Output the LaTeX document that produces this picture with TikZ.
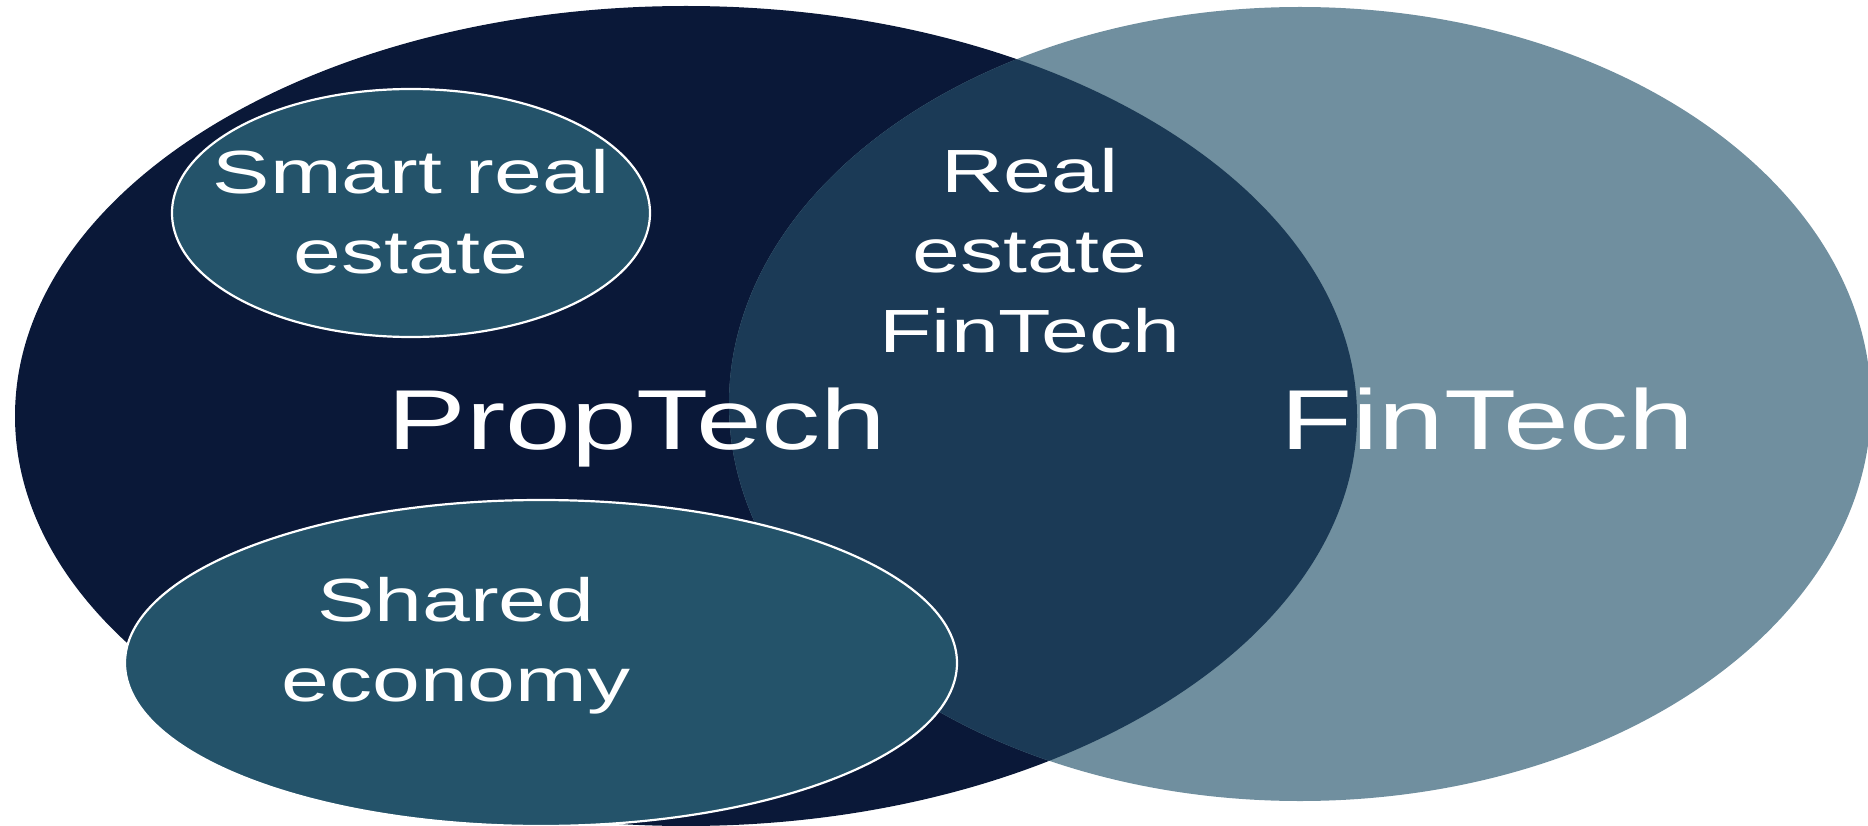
\documentclass[tikz,border=0pt]{standalone}
\usepackage{fontspec}
\setmainfont{Liberation Sans}
\definecolor{propnavy}{HTML}{0A1838}
\definecolor{finslate}{HTML}{708F9F}
\definecolor{overlapblue}{HTML}{1B3A56}
\definecolor{subteal}{HTML}{24536A}
\tikzset{
  subarea/.style={fill=subteal, draw=white, line width=2.2pt},
  biglabel/.style={text=white, inner sep=0pt, anchor=base, xscale=1.39,
    font=\fontsize{85}{100}\selectfont},
  smalllabel/.style={text=white, inner sep=0pt, anchor=base, xscale=1.41,
    align=center, font=\fontsize{61}{80}\selectfont},
}
\begin{document}
\begin{tikzpicture}[x=1pt, y=-1pt]
\useasboundingbox (0,0) rectangle (1868,826);
\clip (0,0) rectangle (1868,826);
% the two main sets
\fill[propnavy] (686,416) ellipse [x radius=671, y radius=410];
\fill[finslate] (1300,404) ellipse [x radius=571, y radius=397];
% their intersection
\begin{scope}
  \clip (1300,404) ellipse [x radius=571, y radius=397];
  \fill[overlapblue] (686,416) ellipse [x radius=671, y radius=410];
\end{scope}
% subsets of PropTech
\draw[subarea] (411,213) ellipse [x radius=239, y radius=124];
\draw[subarea] (541,663) ellipse [x radius=416, y radius=163];
% labels (anchored at the baseline of the last line)
\node[biglabel] (proptech) at (637,449) {PropTech};
\node[biglabel] (fintech) at (1487,449) {FinTech};
\node[smalllabel] (smart) at (411,274) {Smart real\\estate};
\node[smalllabel] (refintech) at (1030,352) {Real\\estate\\FinTech};
\node[smalllabel] (shared) at (456,701) {Shared\\economy};
\end{tikzpicture}
\end{document}
